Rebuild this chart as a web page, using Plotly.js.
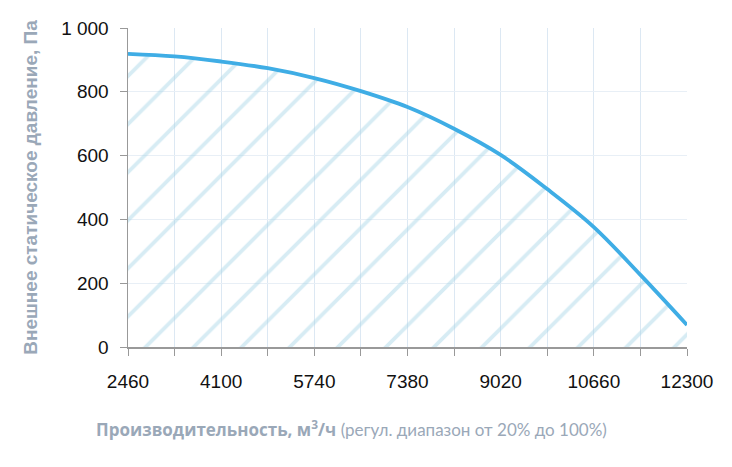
<!DOCTYPE html>
<html>
<head>
<meta charset="utf-8">
<script src="https://cdn.plot.ly/plotly-3.0.1.min.js"></script>
<style>
  html, body { margin: 0; padding: 0; background: #fff; }
  #chart { width: 732px; height: 467px; }
</style>
</head>
<body>
<div id="chart"></div>
<script>
// airflow, m3/h
const airflow = [2460, 3280, 4100, 4920, 5740, 6560, 7380, 8200, 9020, 9840, 10660, 11480, 12300];
// external static pressure, Pa
const pressure = [919, 911, 895, 874, 843, 802, 752, 684, 602, 495, 376, 226, 69];

const xTickVals = [2460, 3280, 4100, 4920, 5740, 6560, 7380, 8200, 9020, 9840, 10660, 11480, 12300];
const xTickText = ['2460', '', '4100', '', '5740', '', '7380', '', '9020', '', '10660', '', '12300'];
const yTickVals = [0, 200, 400, 600, 800, 1000];
const yTickText = ['0', '200', '400', '600', '800', '1 000'];

const curve = {
  x: airflow,
  y: pressure,
  type: 'scatter',
  mode: 'lines',
  line: {color: '#3fade5', width: 3.8, shape: 'spline'},
  fill: 'tozeroy',
  fillcolor: 'rgba(0,0,0,0)',
  fillpattern: {shape: '/', size: 34, solidity: 0.11, fgcolor: 'rgba(165,212,230,0.45)', bgcolor: 'rgba(0,0,0,0)'},
  hoverinfo: 'x+y'
};

const titleColor = '#9aa8b8';
const tickFont = {family: 'Liberation Sans, Arial, sans-serif', size: 19, color: '#111'};

const layout = {
  width: 732,
  height: 467,
  margin: {l: 128, r: 45, t: 28, b: 120},
  paper_bgcolor: '#fff',
  plot_bgcolor: '#fff',
  showlegend: false,
  xaxis: {
    range: [2460, 12300],
    tickmode: 'array',
    tickvals: xTickVals,
    ticktext: xTickText,
    ticks: 'outside',
    ticklen: 7,
    tickcolor: '#999',
    tickfont: tickFont,
    ticklabelstandoff: 10,
    showgrid: true,
    gridcolor: '#dce8f3',
    showline: true,
    linecolor: '#999',
    linewidth: 1.5,
    zeroline: false,
    automargin: false
  },
  yaxis: {
    range: [0, 1000],
    tickmode: 'array',
    tickvals: yTickVals,
    ticktext: yTickText,
    ticks: 'outside',
    ticklen: 7,
    tickcolor: '#999',
    tickfont: tickFont,
    ticklabelstandoff: 7,
    showgrid: true,
    gridcolor: '#e8eff6',
    showline: true,
    linecolor: '#999',
    linewidth: 1.5,
    zeroline: false,
    automargin: false,
    title: {
      text: '<b>Внешнее статическое давление, Па</b>',
      font: {family: 'Liberation Sans, Arial, sans-serif', size: 19, color: titleColor},
      standoff: 18
    }
  },
  annotations: [{
    xref: 'paper', yref: 'paper',
    x: 0.399, y: -0.255,
    xanchor: 'center', yanchor: 'middle',
    showarrow: false,
    text: '<b>Производительность, м<sup>3</sup>/ч</b> <span style="font-family:Lato">(регул. диапазон от 20% до 100%)</span>',
    font: {family: 'Open Sans, sans-serif', size: 17, color: titleColor}
  }]
};

Plotly.newPlot('chart', [curve], layout, {displayModeBar: false, staticPlot: true});
</script>
</body>
</html>
